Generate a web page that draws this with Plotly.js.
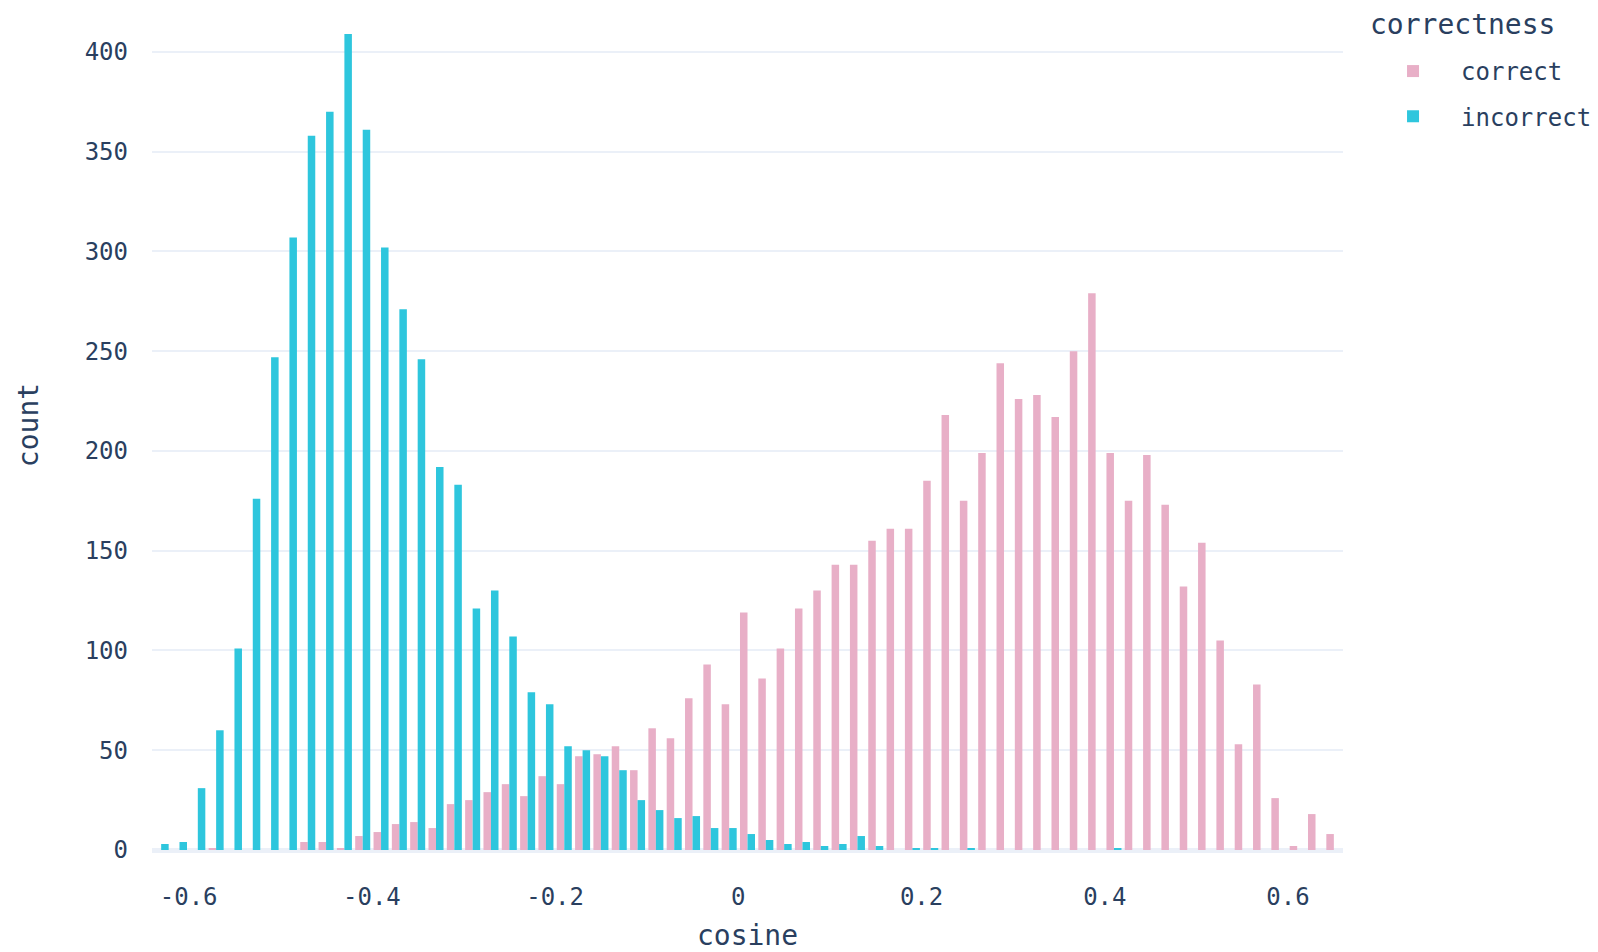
<!DOCTYPE html>
<html>
<head>
<meta charset="utf-8">
<script src="https://cdn.plot.ly/plotly-3.0.1.min.js"></script>
<style>html,body{margin:0;padding:0;background:#fff;}#chart{width:1598px;height:952px;}</style>
</head>
<body>
<div id="chart"></div>
<script>
// bin centers of cosine histogram (bin width 0.02)
const binCenters = [-0.63,-0.61,-0.59,-0.57,-0.55,-0.53,-0.51,-0.49,-0.47,-0.45,-0.43,-0.41,-0.39,-0.37,-0.35,-0.33,
  -0.31,-0.29,-0.27,-0.25,-0.23,-0.21,-0.19,-0.17,-0.15,-0.13,-0.11,-0.09,-0.07,-0.05,-0.03,-0.01,
  0.01,0.03,0.05,0.07,0.09,0.11,0.13,0.15,0.17,0.19,0.21,0.23,0.25,0.27,0.29,0.31,
  0.33,0.35,0.37,0.39,0.41,0.43,0.45,0.47,0.49,0.51,0.53,0.55,0.57,0.59,0.61,0.63,0.65];

const correctCounts = [0,0,0,1,0,0,0,0,4,4,1,7,9,13,14,11,
  23,25,29,33,27,37,33,47,48,52,40,61,56,76,93,73,
  119,86,101,121,130,143,143,155,161,161,185,218,175,199,244,226,
  228,217,250,279,199,175,198,173,132,154,105,53,83,26,2,18,8];

const incorrectCounts = [3,4,31,60,101,176,247,307,358,370,409,361,302,271,246,192,
  183,121,130,107,79,73,52,50,47,40,25,20,16,17,11,11,
  8,5,3,4,2,3,7,2,0,1,1,0,1,0,0,0,
  0,0,0,0,1,0,0,0,0,0,0,0,0,0,0,0,0];

const seriesNames = ["correct", "incorrect"];
const seriesColors = ["#E8AFC7", "#2EC6DD"];
const legendTitle = "correctness";
const xTickVals = [-0.6, -0.4, -0.2, 0, 0.2, 0.4, 0.6];
const xTickText = ["-0.6", "-0.4", "-0.2", "0", "0.2", "0.4", "0.6"];
const yTickVals = [0, 50, 100, 150, 200, 250, 300, 350, 400];

const FONT = '"DejaVu Sans Mono", "Liberation Mono", monospace';
const INK = '#2a3f5f';

const traces = [
  {type: 'bar', name: seriesNames[0], x: binCenters, y: correctCounts,
   marker: {color: seriesColors[0]}, legendgroup: 'a'},
  {type: 'bar', name: seriesNames[1], x: binCenters, y: incorrectCounts,
   marker: {color: seriesColors[1]}, legendgroup: 'b'}
];

const layout = {
  width: 1598, height: 952,
  paper_bgcolor: '#fff', plot_bgcolor: '#fff',
  font: {family: FONT, size: 24, color: INK},
  margin: {l: 152, r: 255, t: 0, b: 102, pad: 0},
  barmode: 'group', bargap: 0.18, bargroupgap: 0,
  showlegend: true,
  legend: {
    x: 1.0185, xanchor: 'left', y: 0.9424, yanchor: 'top',
    font: {size: 24, color: INK, family: FONT},
    tracegroupgap: 11, itemwidth: 86
  },
  annotations: [{
    text: legendTitle, xref: 'paper', yref: 'paper',
    x: 1.021, xanchor: 'left', y: 0.9712, yanchor: 'middle',
    showarrow: false, font: {size: 28, color: INK, family: FONT}
  }],
  xaxis: {
    range: [-0.64, 0.66], showgrid: false, zeroline: false, showline: false,
    tickmode: 'array', tickvals: xTickVals, ticktext: xTickText,
    ticks: '', ticklabelstandoff: 30,
    tickfont: {size: 24, color: INK, family: FONT},
    title: {text: 'cosine', font: {size: 28, color: INK, family: FONT}, standoff: 16}
  },
  yaxis: {
    range: [0, 426], showgrid: true, gridcolor: '#EBF0F8', gridwidth: 2.4,
    zeroline: true, zerolinecolor: '#EBF0F8', zerolinewidth: 4.5, showline: false,
    tickmode: 'array', tickvals: yTickVals,
    ticks: '', ticklabelstandoff: 23,
    tickfont: {size: 24, color: INK, family: FONT},
    title: {text: 'count', font: {size: 28, color: INK, family: FONT}, standoff: 37}
  }
};

Plotly.newPlot('chart', traces, layout, {displayModeBar: false, responsive: false});
</script>
</body>
</html>
